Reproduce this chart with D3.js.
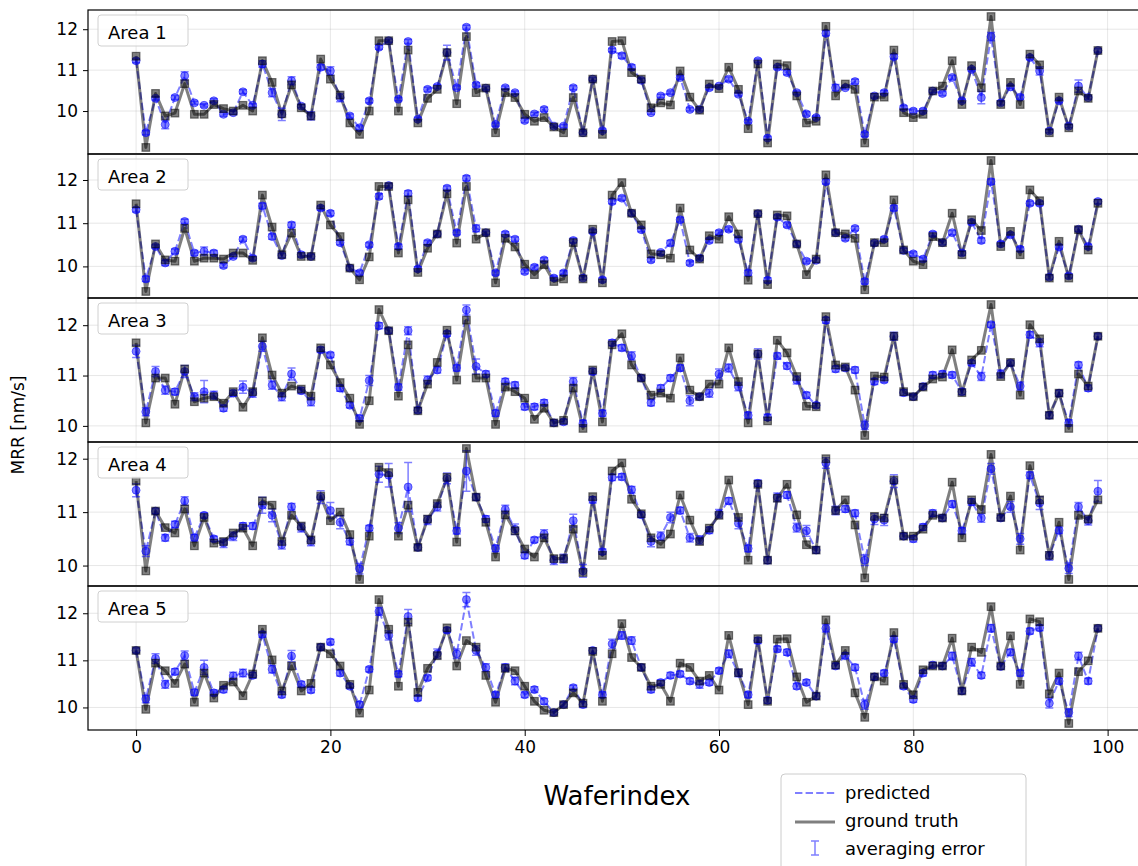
<!DOCTYPE html>
<html>
<head>
<meta charset="utf-8">
<script src="https://cdn.jsdelivr.net/npm/d3@7"></script>
<style>
  body { margin: 0; background: #fff; }
  svg { display: block; font-family: "DejaVu Sans", sans-serif; }
</style>
</head>
<body>
<svg id="chart" width="1138" height="866"></svg>
<script>
// wafer indices 0..99
const waferIndex = d3.range(100);
const areaNames = ["Area 1", "Area 2", "Area 3", "Area 4", "Area 5"];
const xTicks = [0, 20, 40, 60, 80, 100];
const yTicks = [10, 11, 12];

// ground truth MRR per area
const gt1 = [11.34,9.11,10.43,9.88,9.95,10.67,9.92,9.92,10.16,10.06,10.0,10.14,10.0,11.23,10.7,9.93,10.64,10.08,9.88,11.27,
  10.78,10.39,9.71,9.43,10.0,11.72,11.72,10.0,11.49,9.71,10.31,10.53,11.43,10.18,11.82,10.45,10.56,9.47,10.45,10.33,
  9.92,9.75,9.84,9.61,9.47,10.33,9.47,10.78,9.43,11.7,11.72,10.94,10.78,10.08,10.2,10.15,10.98,10.34,10.02,10.66,
  10.55,11.07,10.53,9.57,11.15,9.22,11.15,11.11,10.37,9.71,9.75,12.07,10.37,10.66,10.53,9.22,10.34,10.34,11.49,9.96,
  9.84,9.92,10.49,10.61,11.23,10.16,11.11,10.57,12.31,10.16,10.7,10.16,11.39,11.13,9.47,10.34,9.59,10.49,10.31,11.48];
const gt2 = [11.45,9.42,10.52,10.15,10.12,10.88,10.12,10.19,10.19,10.17,10.31,10.31,10.14,11.65,10.91,10.27,10.77,10.23,10.23,11.42,
  10.96,10.69,9.96,9.69,10.22,11.85,11.85,10.31,11.54,9.86,10.42,10.75,11.68,10.54,11.85,10.63,10.78,9.62,10.65,10.45,
  10.05,9.81,10.04,9.65,9.71,10.55,9.71,10.86,9.62,11.65,11.94,11.23,10.96,10.29,10.27,10.19,11.35,10.38,10.17,10.71,
  10.63,11.15,10.75,9.68,11.22,9.58,11.19,11.17,10.52,9.81,10.17,12.12,10.78,10.75,10.65,9.46,10.55,10.55,11.54,10.38,
  10.12,10.04,10.69,10.55,11.23,10.27,11.08,10.83,12.45,10.46,10.81,10.27,11.77,11.52,9.73,10.58,9.73,10.85,10.38,11.46];
const gt3 = [11.65,10.06,10.95,10.95,10.43,11.13,10.48,10.55,10.58,10.45,10.68,10.37,10.68,11.75,11.01,10.65,10.79,10.73,10.59,11.55,
  11.21,10.86,10.55,10.03,10.5,12.31,11.89,10.59,11.61,10.3,10.83,11.26,11.9,10.91,12.1,10.95,10.95,10.03,10.77,10.68,
  10.55,10.13,10.35,10.06,10.11,10.75,9.95,11.11,10.08,11.61,11.83,11.21,10.95,10.61,10.65,10.55,11.35,10.71,10.58,10.83,
  10.83,11.55,10.88,10.06,11.43,10.1,11.7,11.45,10.98,10.39,10.38,12.17,11.21,11.17,10.71,9.81,10.99,10.97,11.78,10.68,
  10.58,10.77,10.93,10.97,11.51,10.66,11.31,11.5,12.41,10.98,11.26,10.61,12.01,11.73,10.21,10.65,9.95,11.03,10.79,11.78];
const gt4 = [11.58,9.9,11.02,10.71,10.61,11.06,10.37,10.9,10.42,10.45,10.61,10.7,10.37,11.21,11.13,10.45,10.94,10.74,10.48,11.3,
  10.84,11.0,10.58,9.74,10.55,11.84,11.74,10.55,11.13,10.34,10.87,11.16,11.65,10.44,12.19,11.28,10.81,10.16,10.95,10.65,
  10.31,10.16,10.52,10.13,10.13,10.68,9.87,11.29,10.19,11.77,11.92,11.24,10.97,10.52,10.4,10.59,11.32,10.85,10.45,10.7,
  10.94,11.6,10.9,10.1,11.52,10.1,11.26,11.52,10.95,10.39,10.29,12.0,11.03,11.23,10.76,9.77,10.92,10.89,11.6,10.55,
  10.55,10.68,10.94,10.89,11.56,10.52,11.23,11.05,12.08,10.9,11.3,10.29,11.87,11.23,10.19,10.81,9.74,10.94,10.87,11.23];
const gt5 = [11.21,9.96,10.94,10.78,10.51,10.92,10.11,10.73,10.2,10.47,10.54,10.25,10.71,11.66,11.01,10.35,10.88,10.35,10.51,11.28,
  11.14,10.88,10.49,9.88,10.37,12.29,11.66,10.45,11.81,10.32,10.83,11.1,11.69,10.88,11.42,11.28,10.68,10.11,10.83,10.78,
  10.45,10.13,9.94,9.89,10.06,10.31,10.09,11.19,10.13,11.14,11.78,11.06,10.85,10.45,10.49,10.13,10.94,10.85,10.56,10.68,
  10.37,11.53,10.74,10.06,11.46,10.13,11.45,11.46,10.65,10.11,10.24,11.86,10.9,11.21,10.31,9.79,10.65,10.56,11.59,10.49,
  10.27,10.8,10.88,10.88,11.47,10.35,11.28,11.17,12.14,10.88,11.52,10.49,11.88,11.82,10.29,10.73,9.66,10.76,10.99,11.68];

// predicted MRR per area
const pred1 = [11.23,9.47,10.31,9.67,10.33,10.86,10.2,10.14,10.25,9.92,9.96,10.47,10.14,11.15,10.45,9.92,10.74,10.12,9.88,11.07,
  10.98,10.33,9.88,9.59,10.25,11.56,11.72,10.29,11.7,9.8,10.53,10.6,11.43,10.57,12.05,10.64,10.56,9.67,10.57,10.45,
  9.77,9.93,10.04,9.63,9.63,10.57,9.47,10.78,9.52,11.49,11.35,11.07,10.75,9.96,10.37,10.45,10.82,10.04,10.04,10.57,
  10.61,10.78,10.41,9.75,11.23,9.34,11.07,10.94,10.45,9.93,9.84,11.9,10.57,10.57,10.72,9.43,10.37,10.45,11.33,10.08,
  10.0,10.0,10.49,10.43,10.82,10.25,11.02,10.33,11.82,10.2,10.59,10.34,11.31,10.98,9.51,10.25,9.63,10.61,10.33,11.48];
const pred2 = [11.31,9.71,10.46,10.08,10.35,11.04,10.31,10.35,10.31,10.02,10.23,10.63,10.19,11.4,10.69,10.25,10.96,10.27,10.23,11.35,
  11.23,10.55,9.96,9.85,10.5,11.62,11.87,10.46,11.69,9.94,10.55,10.75,11.81,10.78,12.04,10.88,10.78,9.85,10.75,10.63,
  9.88,9.98,10.15,9.73,9.85,10.6,9.73,10.81,9.69,11.5,11.58,11.23,10.85,10.15,10.32,10.54,11.08,10.08,10.19,10.6,
  10.78,10.86,10.62,9.85,11.22,9.68,11.14,10.96,10.52,10.12,10.14,11.96,10.78,10.65,10.88,9.65,10.54,10.63,11.35,10.37,
  10.29,10.17,10.75,10.55,10.78,10.31,11.02,10.6,11.96,10.52,10.73,10.4,11.46,11.46,9.75,10.45,9.78,10.86,10.46,11.5];
const pred3 = [11.48,10.28,11.08,10.71,10.68,11.08,10.58,10.68,10.61,10.35,10.65,10.77,10.65,11.58,10.81,10.58,11.03,10.7,10.48,11.51,
  11.41,10.75,10.41,10.15,10.9,11.99,11.89,10.77,11.89,10.31,10.91,11.11,11.83,11.15,12.3,11.18,11.03,10.25,10.88,10.81,
  10.38,10.38,10.46,10.06,10.08,10.88,10.05,11.08,10.25,11.65,11.55,11.39,10.95,10.46,10.75,10.95,11.15,10.5,10.58,10.65,
  11.03,11.15,10.78,10.21,11.43,10.17,11.39,11.19,10.91,10.61,10.41,12.1,11.13,11.15,11.11,10.01,10.88,10.91,11.78,10.66,
  10.58,10.78,11.01,11.03,11.01,10.68,11.25,10.98,12.01,11.03,11.25,10.79,11.81,11.65,10.21,10.65,10.06,11.21,10.75,11.78];
const pred4 = [11.41,10.27,11.02,10.52,10.77,11.21,10.52,10.94,10.5,10.42,10.55,10.74,10.74,11.13,10.94,10.39,11.1,10.71,10.45,11.28,
  11.03,10.81,10.45,9.94,10.7,11.71,11.69,10.7,11.47,10.34,10.85,11.1,11.63,10.65,11.77,11.28,10.87,10.32,11.05,10.68,
  10.19,10.48,10.59,10.1,10.13,10.84,9.9,11.23,10.26,11.65,11.66,11.42,10.95,10.45,10.55,10.9,11.03,10.52,10.48,10.66,
  10.97,11.21,10.79,10.32,11.54,10.1,11.28,11.32,10.71,10.65,10.29,11.92,11.03,11.06,10.98,10.1,10.87,10.85,11.58,10.55,
  10.5,10.72,10.98,10.89,11.15,10.65,11.19,10.89,11.81,10.89,11.1,10.5,11.69,11.17,10.18,10.66,9.95,11.1,10.84,11.39];
const pred5 = [11.21,10.18,11.04,10.49,10.76,11.1,10.32,10.85,10.31,10.38,10.67,10.73,10.68,11.55,10.81,10.27,11.09,10.49,10.37,11.28,
  11.39,10.73,10.45,10.06,10.81,12.04,11.53,10.71,11.93,10.2,10.63,11.14,11.64,11.14,12.29,11.21,10.85,10.27,10.85,10.56,
  10.27,10.38,10.13,9.89,10.06,10.42,10.06,11.21,10.27,11.35,11.53,11.42,10.85,10.38,10.53,10.68,10.71,10.56,10.49,10.53,
  10.78,11.14,10.73,10.27,11.42,10.15,11.24,11.17,10.45,10.53,10.24,11.68,10.88,11.1,10.85,10.06,10.65,10.73,11.45,10.45,
  10.17,10.73,10.9,10.88,11.09,10.35,10.96,10.68,11.68,10.87,11.17,10.73,11.62,11.69,10.09,10.56,9.89,11.09,10.56,11.68];

// averaging error (half height of each error bar)
const err1 = [.05,.05,.04,.1,.05,.1,.04,.04,.05,.05,.04,.05,.04,.08,.1,.15,.1,.04,.1,.06,
  .1,.1,.05,.05,.05,.05,.04,.04,.05,.04,.05,.04,.18,.04,.05,.05,.04,.04,.04,.04,
  .05,.04,.05,.04,.04,.05,.04,.04,.04,.04,.06,.06,.05,.04,.04,.04,.04,.04,.04,.05,
  .04,.05,.04,.04,.04,.04,.04,.05,.04,.05,.04,.06,.08,.04,.06,.05,.05,.05,.05,.05,
  .05,.05,.04,.05,.05,.04,.04,.15,.1,.05,.04,.05,.05,.1,.04,.04,.04,.15,.04,.04];
const err2 = [.05,.06,.04,.06,.05,.05,.06,.1,.06,.05,.04,.05,.05,.06,.06,.05,.06,.05,.05,.05,
  .06,.05,.05,.05,.05,.06,.05,.05,.06,.05,.05,.05,.05,.05,.06,.08,.04,.05,.05,.05,
  .05,.05,.05,.05,.05,.05,.04,.04,.05,.05,.05,.05,.05,.05,.05,.06,.05,.05,.05,.05,
  .05,.05,.05,.06,.05,.06,.05,.05,.05,.05,.05,.05,.05,.05,.05,.06,.05,.05,.06,.05,
  .05,.05,.05,.05,.05,.05,.05,.06,.06,.05,.05,.05,.05,.05,.05,.05,.05,.05,.05,.05];
const err3 = [.12,.08,.1,.08,.06,.12,.08,.22,.08,.06,.06,.12,.08,.1,.08,.08,.12,.06,.08,.05,
  .05,.06,.05,.06,.1,.06,.05,.06,.08,.05,.08,.06,.05,.06,.1,.15,.06,.06,.06,.06,
  .06,.06,.06,.05,.05,.08,.06,.06,.06,.06,.06,.08,.05,.06,.06,.06,.06,.1,.05,.08,
  .1,.08,.08,.06,.1,.06,.06,.06,.08,.06,.05,.06,.06,.05,.06,.08,.06,.05,.08,.06,
  .05,.05,.06,.06,.06,.06,.05,.08,.05,.08,.05,.08,.06,.08,.06,.06,.06,.06,.06,.05];
const err4 = [.12,.1,.05,.06,.06,.08,.06,.05,.05,.08,.08,.06,.06,.15,.12,.08,.06,.08,.08,.12,
  .15,.12,.06,.1,.05,.15,.22,.1,.46,.05,.08,.08,.1,.06,.38,.06,.06,.06,.08,.1,
  .06,.05,.08,.08,.08,.12,.12,.06,.05,.06,.06,.06,.05,.1,.08,.1,.06,.08,.08,.06,
  .08,.06,.1,.06,.06,.06,.08,.06,.08,.1,.06,.1,.08,.06,.06,.1,.1,.1,.12,.05,
  .06,.06,.06,.05,.06,.06,.06,.08,.1,.05,.1,.1,.06,.12,.08,.06,.1,.08,.08,.2];
const err5 = [.05,.08,.1,.08,.06,.1,.06,.15,.06,.06,.08,.08,.06,.06,.08,.06,.12,.06,.06,.06,
  .06,.06,.05,.06,.05,.08,.1,.06,.15,.05,.05,.1,.05,.1,.15,.1,.08,.06,.08,.08,
  .06,.06,.06,.05,.05,.05,.06,.06,.06,.1,.08,.08,.06,.06,.06,.06,.06,.06,.08,.06,
  .06,.08,.08,.06,.06,.06,.06,.06,.06,.06,.06,.08,.06,.06,.06,.1,.06,.06,.06,.06,
  .06,.06,.06,.06,.08,.06,.08,.06,.08,.06,.06,.06,.06,.06,.1,.06,.08,.08,.06,.05];

const groundTruth = [gt1, gt2, gt3, gt4, gt5];
const predicted = [pred1, pred2, pred3, pred4, pred5];
const avgError = [err1, err2, err3, err4, err5];

// layout
const width = 1138, height = 866;
const plotLeft = 88, plotRight = 1146;
const panelTop = 10, panelH = 144;
const svg = d3.select("#chart");

const x = d3.scaleLinear().domain([-4.95, 103.95]).range([plotLeft, plotRight]);

areaNames.forEach((name, k) => {
    const top = panelTop + k * panelH, bot = top + panelH;
    const gt = groundTruth[k], pr = predicted[k], er = avgError[k];

    // autoscale like matplotlib: data + error bars, 5% margin
    const lo = d3.min([d3.min(gt), d3.min(pr, (d, i) => d - er[i])]);
    const hi = d3.max([d3.max(gt), d3.max(pr, (d, i) => d + er[i])]);
    const pad = (hi - lo) * 0.05;
    const y = d3.scaleLinear().domain([lo - pad, hi + pad]).range([bot, top]);

    const g = svg.append("g");
    g.append("clipPath").attr("id", `clip${k}`)
        .append("rect").attr("x", plotLeft).attr("y", top).attr("width", plotRight - plotLeft).attr("height", panelH);

    const ticksY = yTicks.filter(t => t >= y.domain()[0] && t <= y.domain()[1]);

    // grid
    g.append("g").selectAll("line").data(xTicks).join("line")
        .attr("x1", d => x(d)).attr("x2", d => x(d)).attr("y1", top).attr("y2", bot)
        .attr("stroke", "#b0b0b0").attr("stroke-opacity", 0.3).attr("stroke-width", 1);
    g.append("g").selectAll("line").data(ticksY).join("line")
        .attr("x1", plotLeft).attr("x2", plotRight).attr("y1", d => y(d)).attr("y2", d => y(d))
        .attr("stroke", "#b0b0b0").attr("stroke-opacity", 0.3).attr("stroke-width", 1);

    const plot = g.append("g").attr("clip-path", `url(#clip${k})`);

    // predicted line
    const predLine = d3.line().x((d, i) => x(waferIndex[i])).y(d => y(d));
    plot.append("path").datum(pr).attr("d", predLine)
        .attr("fill", "none").attr("stroke", "blue").attr("stroke-opacity", 0.5)
        .attr("stroke-width", 2).attr("stroke-dasharray", "7.4,3.2");

    // ground truth line
    plot.append("path").datum(gt).attr("d", predLine)
        .attr("fill", "none").attr("stroke", "black").attr("stroke-opacity", 0.5)
        .attr("stroke-width", 3).attr("stroke-linejoin", "round");

    // error bars
    const eb = plot.append("g").attr("stroke", "blue").attr("stroke-opacity", 0.5).attr("stroke-width", 1.5);
    eb.selectAll("path").data(pr).join("path")
        .attr("fill", "none")
        .attr("d", (d, i) => {
            const cx = x(waferIndex[i]), y0 = y(d - er[i]), y1 = y(d + er[i]);
            return `M${cx},${y0}V${y1}M${cx - 4},${y0}H${cx + 4}M${cx - 4},${y1}H${cx + 4}`;
        });

    // predicted markers
    plot.append("g").selectAll("circle").data(pr).join("circle")
        .attr("cx", (d, i) => x(waferIndex[i])).attr("cy", d => y(d)).attr("r", 4)
        .attr("fill", "blue").attr("fill-opacity", 0.5)
        .attr("stroke", "blue").attr("stroke-opacity", 0.5).attr("stroke-width", 1);

    // ground truth markers
    plot.append("g").selectAll("rect").data(gt).join("rect")
        .attr("x", (d, i) => x(waferIndex[i]) - 3.8).attr("y", d => y(d) - 3.8)
        .attr("width", 7.6).attr("height", 7.6)
        .attr("fill", "black").attr("fill-opacity", 0.5)
        .attr("stroke", "black").attr("stroke-opacity", 0.5).attr("stroke-width", 1.2);

    // y axis
    const ya = g.append("g").attr("transform", `translate(${plotLeft},0)`)
        .call(d3.axisLeft(y).tickValues(ticksY).tickFormat(d3.format("d")).tickSize(5).tickPadding(5));
    ya.select(".domain").remove();
    ya.selectAll("text").attr("font-size", 17).attr("font-family", "DejaVu Sans").attr("fill", "#000");
    ya.selectAll("line").attr("stroke", "#000");

    // frame
    g.append("rect").attr("x", plotLeft).attr("y", top).attr("width", plotRight - plotLeft).attr("height", panelH)
        .attr("fill", "none").attr("stroke", "#000").attr("stroke-width", 1.2);

    // area label box
    g.append("rect").attr("x", 98).attr("y", top + 5).attr("width", 90).attr("height", 31).attr("rx", 3)
        .attr("fill", "#fff").attr("fill-opacity", 0.8).attr("stroke", "#d0d0d0");
    g.append("text").attr("x", 108).attr("y", top + 29).attr("font-size", 18).text(name);

    if (k === areaNames.length - 1) {
        const xa = svg.append("g").attr("transform", `translate(0,${bot})`)
            .call(d3.axisBottom(x).tickValues(xTicks).tickSize(6).tickPadding(5));
        xa.select(".domain").remove();
        xa.selectAll("text").attr("font-size", 17).attr("font-family", "DejaVu Sans").attr("fill", "#000");
        xa.selectAll("line").attr("stroke", "#000");
    }
});

// axis titles
svg.append("text").attr("transform", "translate(24,425) rotate(-90)")
    .attr("text-anchor", "middle").attr("font-size", 17).text("MRR [nm/s]");
svg.append("text").attr("x", 617).attr("y", 805)
    .attr("text-anchor", "middle").attr("font-size", 26).text("Waferindex");

// legend
const leg = svg.append("g").attr("transform", "translate(781,774)");
leg.append("rect").attr("width", 245).attr("height", 110).attr("rx", 4)
    .attr("fill", "#fff").attr("fill-opacity", 0.8).attr("stroke", "#cccccc");
leg.append("line").attr("x1", 14).attr("x2", 54).attr("y1", 19).attr("y2", 19)
    .attr("stroke", "blue").attr("stroke-opacity", 0.5).attr("stroke-width", 2).attr("stroke-dasharray", "7.4,3.2");
leg.append("line").attr("x1", 14).attr("x2", 54).attr("y1", 48).attr("y2", 48)
    .attr("stroke", "black").attr("stroke-opacity", 0.5).attr("stroke-width", 3);
leg.append("path").attr("d", "M34,67V81M30,67H38M30,81H38")
    .attr("fill", "none").attr("stroke", "blue").attr("stroke-opacity", 0.5).attr("stroke-width", 1.5);
const legendLabels = ["predicted", "ground truth", "averaging error"];
leg.selectAll("text.lab").data(legendLabels).join("text").attr("class", "lab")
    .attr("x", 64).attr("y", (d, i) => 25 + i * 28).attr("font-size", 18).text(d => d);
</script>
</body>
</html>
